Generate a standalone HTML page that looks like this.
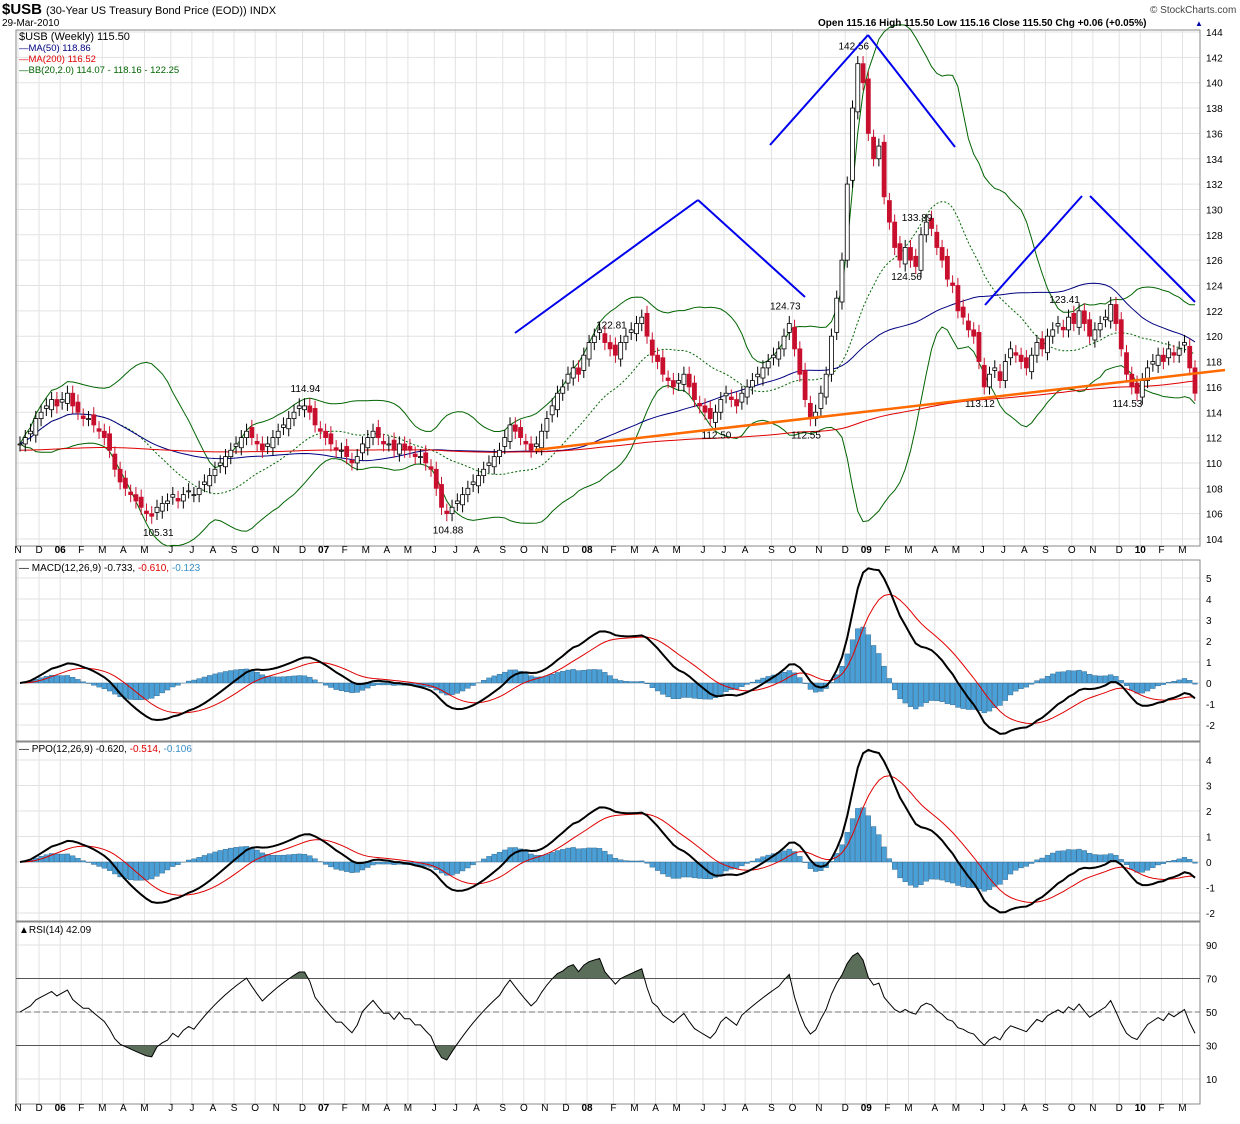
<!DOCTYPE html>
<html><head><meta charset="utf-8"><style>
body{margin:0;background:#fff;font-family:"Liberation Sans",sans-serif}
svg text{font-family:"Liberation Sans",sans-serif}
</style></head><body>
<svg id="c" width="1240" height="1119" xmlns="http://www.w3.org/2000/svg"></svg>
<script>
const weeksPerMonth=[4,4,4,4,4,4,5,4,4,4,4,4,5,4,4,4,4,4,5,4,4,5,4,4,4,4,5,4,4,4,5,4,4,5,4,5,5,4,4,4,5,4,5,4,4,4,5,4,5,4,4,4,4];
const monthLabels=['N','D','06','F','M','A','M','J','J','A','S','O','N','D','07','F','M','A','M','J','J','A','S','O','N','D','08','F','M','A','M','J','J','A','S','O','N','D','09','F','M','A','M','J','J','A','S','O','N','D','10','F','M'];
const closes=[111.5,112,112.5,113.5, 114,114.5,115,114.5, 115,115.5,114.5,114, 113.5,113.5,113,112.5, 112,111,109.5,108.5, 108,107.5,107,106.5, 106,105.8,106.5,106.8,107, 107.5,107,107.5,107.8, 107.5,108,108.5,109, 109.5,110,110.5,111, 111.5,112,112.5,112, 111.5,111,111.5,112, 112.5,113,113.5,114,114.5, 114.5,114,113,112.5, 112,111.5,111,111, 110.5,110,110.5,111.5, 112,112.5,112,111.5, 111.5,111,111.5,111, 111,110.5,110.5,110,109.5, 108,106.5,106,106.5, 107,107.5,108,108.5, 109,109.5,110,110.5,111, 112,113,112.5,112, 111.5,111,111.5,112.5, 113.5,114.5,115.5,116, 117,117.5,117,118.5, 119.5,120,120.5,119.5,119, 118.5,119.5,120,120.5, 121,121.5,120,118.5, 118,117,116.5,116, 116.5,117,116,115,114.5, 114,113.5,114,115, 115.5,115,114.5,115.5, 116,116.5,117,117.5,118, 118.5,119,120,121, 119,117,115,113.5,114, 115.5,117,120,123,126, 132,138,141.5,140, 136,134,135,131, 129,127,126,127, 126,125.5,128,129,128.5, 127,126,124.5,124, 122,121.5,120.5,120, 118,116,117,117.5, 116.5,118,119,118.5, 118,117.5,118.5,119.5,119, 120,120.5,121,120.5, 121.5,121,122,121,120, 120.5,121,121.5,122.5, 121,119,117,116, 115.5,116.5,117.5,118, 118.5,118,119,118.5, 119,119.5,117.5,115.5];
const priceTicks=[104,106,108,110,112,114,116,118,120,122,124,126,128,130,132,134,136,138,140,142,144];
const macdTicks=[-2,-1,0,1,2,3,4,5];
const ppoTicks=[-2,-1,0,1,2,3,4];
const rsiTicks=[10,30,50,70,90];
const peakIdx=[26,54,81,112,132,145,149,158,170,168,182,198,210];
const peakText=['105.31','114.94','104.88','122.81','112.50','124.73','112.55','142.56','133.89','124.56','113.12','123.41','114.53'];
const peakTop=[0,1,0,1,0,1,0,1,1,0,0,1,0];

const S=document.getElementById('c');const NS='http://www.w3.org/2000/svg';
function el(t,a,p){const e=document.createElementNS(NS,t);for(const k in a)e.setAttribute(k,a[k]);(p||S).appendChild(e);return e;}
function tx(x,y,s,a){const e=el('text',Object.assign({x:x,y:y,'font-size':11,fill:'#000'},a||{}));e.textContent=s;return e;}
const N=closes.length;
const X=i=>20+i*(1175/(N-1));
const yP=p=>32+(144-p)*12.675, yM=v=>683-v*21, yPP=v=>862-v*25.5, yR=v=>1012-(v-50)*1.675;
const L=16,R=1200;
function sma(n,pad){return closes.map((c,i)=>{const s=closes.slice(Math.max(0,i-n+1),i+1);const miss=n-s.length;const sum=s.reduce((a,b)=>a+b,0);return pad==null?sum/s.length:(sum+miss*pad)/n;});}
function ema(arr,n){const k=2/(n+1);let e=arr[0];return arr.map(v=>e=v*k+e*(1-k));}
const ma50=sma(50),ma200=sma(200,111),ma20=sma(20);
const bbU=[],bbL=[];closes.forEach((c,i)=>{const s=closes.slice(Math.max(0,i-19),i+1);const m=ma20[i];const sd=Math.sqrt(s.reduce((a,b)=>a+(b-m)*(b-m),0)/s.length);bbU.push(m+2*sd);bbL.push(m-2*sd);});
const e12=ema(closes,12),e26=ema(closes,26);
const macd=closes.map((c,i)=>e12[i]-e26[i]),sig=ema(macd,9);
const ppo=closes.map((c,i)=>(e12[i]-e26[i])/e26[i]*100),psig=ema(ppo,9);
const rsi=[];let ag=0.5,al=0.5;closes.forEach((c,i)=>{if(i==0){rsi.push(50);return;}const d=c-closes[i-1];const g=Math.max(d,0),l=Math.max(-d,0);ag=(ag*13+g)/14;al=(al*13+l)/14;rsi.push(al==0?100:100-100/(1+ag/al));});
const mStart=[];let acc=0;weeksPerMonth.forEach(w=>{mStart.push(acc);acc+=w;});
const panels=[[30,546,priceTicks,yP,'main-panel'],[560,741,macdTicks,yM,'macd-panel'],[742,921,ppoTicks,yPP,'ppo-panel'],[922,1104,rsiTicks,yR,'rsi-panel']];
panels.forEach(([t,b,ticks,f,nm])=>{
 const g=el('g',{});
 mStart.forEach(m=>el('line',{x1:X(m)-2,x2:X(m)-2,y1:t,y2:b,stroke:'#e2e2e2'},g));
 ticks.forEach(v=>{const y=f(v);if(y>t&&y<b){el('line',{x1:L,x2:R,y1:y,y2:y,stroke:'#e2e2e2'},g);tx(1206,y+4,String(v),{'font-size':10});}});
 el('rect',{x:L,y:t,width:R-L,height:b-t,fill:'none',stroke:'#888'},g);
});
function poly(arr,f,st,w,dash,nm){const p=el('polyline',{points:arr.map((v,i)=>X(i)+','+f(v)).join(' '),fill:'none',stroke:st,'stroke-width':w||1});if(dash)p.setAttribute('stroke-dasharray',dash);return p;}
poly(bbU,yP,'#006400',1,null,'bb-upper');poly(bbL,yP,'#006400',1,null,'bb-lower');poly(ma20,yP,'#006400',1,'2,2','bb-middle');
poly(ma50,yP,'#000080',1,null,'ma50-line');poly(ma200,yP,'#e00000',1,null,'ma200-line');
closes.forEach((c,i)=>{const o=i?closes[i-1]+(i%3-1)*0.3:c;const hi=Math.max(o,c)+0.6,lo=Math.min(o,c)-0.6;const x=X(i);const up=c>=o;
 const g=el('g',{});
 el('line',{x1:x,x2:x,y1:yP(hi),y2:yP(lo),stroke:up?'#000':'#c8102e'},g);
 el('rect',{x:x-2,y:yP(Math.max(o,c)),width:4,height:Math.max(1,Math.abs(yP(o)-yP(c))),fill:up?'#fff':'#c8102e',stroke:up?'#000':'#c8102e','stroke-width':0.8},g);});
peakIdx.forEach((i,k)=>{const s=closes.slice(Math.max(0,i-1),i+2);const y=peakTop[k]?yP(Math.max(...s))-14:yP(Math.min(...s))+20;const t=tx(X(i)-14,y,peakText[k],{'font-size':10});});
const ann=[[515,333,698,200],[698,200,805,297],[770,145,868,35],[868,35,955,147],[985,305,1082,196],[1090,196,1195,302]];
ann.forEach(a=>{const l=el('line',{x1:a[0],y1:a[1],x2:a[2],y2:a[3],stroke:'#0000ee','stroke-width':2});});
const tl=el('line',{x1:535,y1:450,x2:1225,y2:370,stroke:'#ff6a00','stroke-width':2.5});
function hist(a,s,f,nm){a.forEach((v,i)=>{const h=v-s[i];const r=el('rect',{x:X(i)-2.4,y:Math.min(f(h),f(0)),width:4.8,height:Math.abs(f(h)-f(0)),fill:'#4a9fd6',stroke:'#2a5f86','stroke-width':0.4});});}
hist(macd,sig,yM,'macd-histogram-bar');poly(sig,yM,'#e00000',1,null,'macd-signal');poly(macd,yM,'#000',2,null,'macd-line');
hist(ppo,psig,yPP,'ppo-histogram-bar');poly(psig,yPP,'#e00000',1,null,'ppo-signal');poly(ppo,yPP,'#000',2,null,'ppo-line');
const cp=el('clipPath',{id:'hi'});el('rect',{x:L,y:922,width:R-L,height:yR(70)-922},cp);
const cp2=el('clipPath',{id:'lo'});el('rect',{x:L,y:yR(30),width:R-L,height:1104-yR(30)},cp2);
const pts=rsi.map((v,i)=>X(i)+','+yR(v)).join(' ');
el('polygon',{points:X(0)+','+yR(70)+' '+pts+' '+X(N-1)+','+yR(70),fill:'#5a6e5a','clip-path':'url(#hi)'});
el('polygon',{points:X(0)+','+yR(30)+' '+pts+' '+X(N-1)+','+yR(30),fill:'#5a6e5a','clip-path':'url(#lo)'});
[[70,'#555',null],[30,'#555',null],[50,'#777','6,3']].forEach(([v,c,d])=>{const l=el('line',{x1:L,x2:R,y1:yR(v),y2:yR(v),stroke:c});if(d)l.setAttribute('stroke-dasharray',d);});
poly(rsi,yR,'#000',1,null,'rsi-line');
[553,1111].forEach(y=>mStart.forEach((m,k)=>{const s=monthLabels[k];const t=tx(X(m)-2,y,s,{'font-size':10,'text-anchor':'middle','font-weight':/\d/.test(s)?'bold':'normal'});}));
tx(2,14,'$USB',{'font-size':15,'font-weight':'bold'});tx(46,14,'(30-Year US Treasury Bond Price (EOD)) INDX',{'font-size':11});
tx(2,26,'29-Mar-2010',{'font-size':10});
tx(818,26,'Open 115.16  High 115.50  Low 115.16  Close 115.50  Chg +0.06 (+0.05%)',{'font-size':10,'font-weight':'bold'});
tx(1195,26,'▲',{'font-size':8,fill:'#0000aa'});
tx(1150,13,'© StockCharts.com',{'font-size':10,fill:'#444'});
tx(19,40,'$USB (Weekly) 115.50',{'font-size':11,'font-family':'Liberation Mono'});
tx(19,51,'—MA(50) 118.86',{'font-size':9.5,fill:'#000080'});
tx(19,62,'—MA(200) 116.52',{'font-size':9.5,fill:'#e00000'});
tx(19,73,'—BB(20,2.0) 114.07 - 118.16 - 122.25',{'font-size':9.5,fill:'#006400'});
const m1=tx(19,571,'— MACD(12,26,9) -0.733, ',{'font-size':10});const a=el('tspan',{fill:'#e00000'},m1);a.textContent='-0.610, ';const b=el('tspan',{fill:'#3a8fc6'},m1);b.textContent='-0.123';
const m2=tx(19,752,'— PPO(12,26,9) -0.620, ',{'font-size':10});const c2=el('tspan',{fill:'#e00000'},m2);c2.textContent='-0.514, ';const d2=el('tspan',{fill:'#3a8fc6'},m2);d2.textContent='-0.106';
tx(19,933,'▲RSI(14) 42.09',{'font-size':10});
</script>
</body></html>
